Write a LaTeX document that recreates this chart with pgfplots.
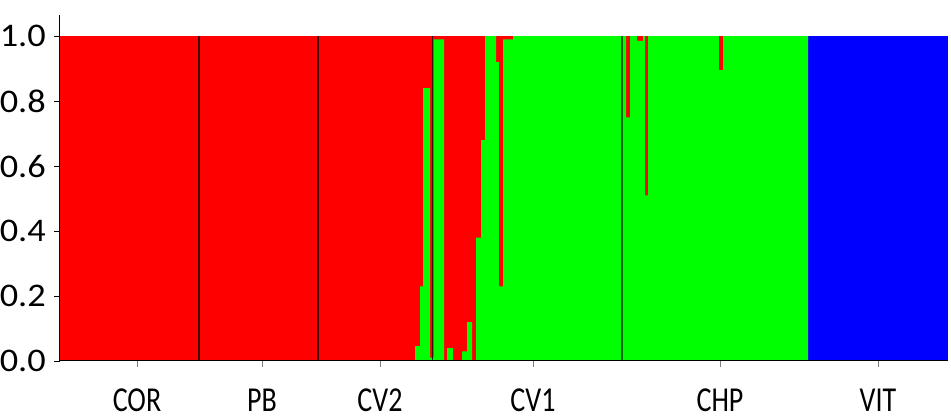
\documentclass[border=0pt]{standalone}
\usepackage{fontspec}
\setmainfont{Carlito}
\newfontfamily\yfont[FakeStretch=1.1]{Carlito}
\newfontfamily\xfont[FakeStretch=0.8]{Carlito}
\usepackage{pgfplots}
\pgfplotsset{compat=1.18}
\definecolor{sred}{RGB}{255,0,0}
\definecolor{sgreen}{RGB}{0,255,0}
\definecolor{sblue}{RGB}{0,0,255}
\begin{document}
\begin{tikzpicture}
\begin{axis}[
  scale only axis, width=888pt, height=346pt,
  xmin=60, xmax=948, ymin=0, ymax=1.065,
  axis x line*=bottom, axis y line*=left,
  axis line style={-, line width=1pt, black},
  xtick={137,262,380,533,720,878},
  xticklabels={COR,PB,CV2,CV1,CHP,VIT},
  ytick={0,0.2,0.4,0.6,0.8,1.0},
  yticklabels={0.0,0.2,0.4,0.6,0.8,1.0},
  tick align=outside, major tick length=6pt,
  xtick style={gray, line width=0.8pt},
  ytick style={black, line width=0.8pt},
  xticklabel style={font=\fontsize{35}{40}\selectfont\xfont, inner sep=0pt, yshift=-22pt},
  yticklabel style={font=\fontsize{33}{38}\selectfont\yfont, inner sep=0pt, xshift=-8pt},
  axis on top,
]
\addplot[fill=sred, draw=none] coordinates {(60,1) (808,1)} \closedcycle;
\addplot[fill=sblue, draw=none] coordinates {(808,1) (948,1)} \closedcycle;
\addplot[const plot, fill=sgreen, draw=none] coordinates {
 (60,0) (415,0.046) (420,0.23) (423,0.84) (430,0.01) (433.5,0.99) (444,0)
 (447,0.04) (453,0) (462,0.03) (467,0.12) (472,0) (476,0.38) (481,0.68)
 (485,1.0) (496,0.92) (499,0.23) (503,0.99) (513,1.0) (626,0.75) (630,1.0)
 (637,0.985) (643,1.0) (645,0.51) (648,1.0) (719,0.895) (723,1.0) (808,0) (948,0)
} \closedcycle;
\addplot[black, line width=1.3pt, opacity=0.75] coordinates {(199,0) (199,1)};
\addplot[black, line width=1.3pt, opacity=0.75] coordinates {(318,0) (318,1)};
\addplot[black, line width=1.3pt, opacity=0.75] coordinates {(432.8,0) (432.8,1)};
\addplot[black, line width=1.3pt, opacity=0.6] coordinates {(622,0) (622,1)};
\coordinate (BL) at (rel axis cs:0,0);
\coordinate (TR) at (rel axis cs:1,1);
\end{axis}
\pgfresetboundingbox
\path (BL) ++(-60pt,-59pt) coordinate (A);
\path (TR) ++(3pt,15pt) coordinate (B);
\path[use as bounding box] (A) rectangle (B);
\end{tikzpicture}
\end{document}
